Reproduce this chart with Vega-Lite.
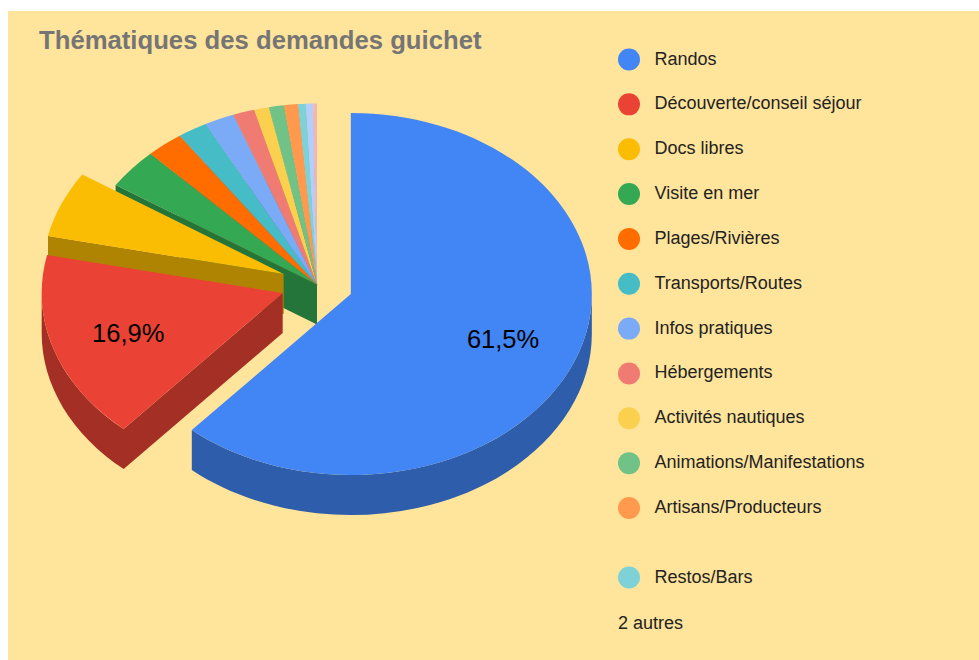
{
"$schema":"https://vega.github.io/schema/vega-lite/v6.json",
"width":971,"height":649,
"padding":{"left":8,"top":11,"right":0,"bottom":0},
"autosize":"none",
"background":"#ffffff",
"view":{"fill":"#ffe49b","stroke":null},
"title":{"text":"Thématiques des demandes guichet","anchor":"start","frame":"group","offset":-44,"dx":31,"font":"Liberation Sans","fontSize":25.7,"fontWeight":"bold","color":"#757575"},
"data":{"values":[
{"rang":1,"thematique":"Randos","valeur":61.5,"eclat":0.15},
{"rang":2,"thematique":"Découverte/conseil séjour","valeur":16.9,"eclat":0.15},
{"rang":3,"thematique":"Docs libres","valeur":5.9,"eclat":0.15},
{"rang":4,"thematique":"Visite en mer","valeur":3.6,"eclat":0},
{"rang":5,"thematique":"Plages/Rivières","valeur":2.5,"eclat":0},
{"rang":6,"thematique":"Transports/Routes","valeur":2.0,"eclat":0},
{"rang":7,"thematique":"Infos pratiques","valeur":2.0,"eclat":0},
{"rang":8,"thematique":"Hébergements","valeur":1.45,"eclat":0},
{"rang":9,"thematique":"Activités nautiques","valeur":1.0,"eclat":0},
{"rang":10,"thematique":"Animations/Manifestations","valeur":1.0,"eclat":0},
{"rang":11,"thematique":"Artisans/Producteurs","valeur":0.95,"eclat":0},
{"rang":12,"thematique":"Restos/Bars","valeur":0.5,"eclat":0},
{"rang":13,"thematique":"Autre 1","valeur":0.5,"eclat":0},
{"rang":14,"thematique":"Autre 2","valeur":0.25,"eclat":0}
]},
"transform":[
{"joinaggregate":[{"op":"sum","field":"valeur","as":"total"}]},
{"window":[{"op":"sum","field":"valeur","as":"cum"}],"sort":[{"field":"rang","order":"ascending"}]},
{"calculate":"2*PI*(datum.cum-datum.valeur)/datum.total","as":"a0"},
{"calculate":"2*PI*datum.cum/datum.total","as":"a1"},
{"calculate":"(datum.a0+datum.a1)/2","as":"mid"},
{"calculate":"datum.eclat*sin(datum.mid)","as":"ex"},
{"calculate":"-datum.eclat*cos(datum.mid)","as":"ey"},
{"calculate":"datum.ex+0.675*sin(datum.mid)","as":"lx"},
{"calculate":"datum.ey-0.68*cos(datum.mid)+0.015","as":"ly"},
{"calculate":"round(24100*sin(datum.a0))/10000","as":"sx"},
{"calculate":"round(-18100*cos(datum.a0))/10000","as":"sy"},
{"calculate":"round(24100*sin(datum.a1))/10000","as":"tx"},
{"calculate":"round(-18100*cos(datum.a1))/10000","as":"ty"},
{"calculate":"max(datum.a0,PI/2)","as":"u"},
{"calculate":"min(datum.a1,3*PI/2)","as":"v"},
{"calculate":"round(24100*sin(datum.u))/10000","as":"ux"},
{"calculate":"round(-18100*cos(datum.u))/10000","as":"uy"},
{"calculate":"round(24100*sin(datum.v))/10000","as":"vx"},
{"calculate":"round(-18100*cos(datum.v))/10000","as":"vy"},
{"calculate":"'M0,0L'+datum.sx+','+datum.sy+'A2.41,1.81 0 '+((datum.a1-datum.a0)>PI?1:0)+' 1 '+datum.tx+','+datum.ty+'Z'","as":"dessus"},
{"calculate":"(datum.u<datum.v?'M'+datum.ux+','+datum.uy+'A2.41,1.81 0 0 1 '+datum.vx+','+datum.vy+'L'+datum.vx+','+round((datum.vy+0.4)*10000)/10000+'A2.41,1.81 0 0 0 '+datum.ux+','+round((datum.uy+0.4)*10000)/10000+'Z':'')+(datum.a0>PI?'M0,0L'+datum.sx+','+datum.sy+'L'+datum.sx+','+round((datum.sy+0.4)*10000)/10000+'L0,0.4Z':'')","as":"paroi"},
{"calculate":"replace(format(datum.valeur,'.1f'),'.',',')+'%'","as":"etiquette"}
],
"encoding":{
"x":{"field":"ex","type":"quantitative","axis":null,"scale":{"domain":[-1.2822,2.7469],"range":[0,971],"nice":false,"zero":false}},
"y":{"field":"ey","type":"quantitative","axis":null,"scale":{"domain":[-1.5110,2.0746],"range":[0,649],"nice":false,"zero":false}}
},
"layer":[
{
"mark":{"type":"point","filled":true,"opacity":1,"size":40000,"strokeWidth":0},
"encoding":{
"shape":{"field":"paroi","type":"nominal","scale":null,"legend":null},
"order":{"field":"rang","sort":"descending"},
"color":{"field":"thematique","type":"nominal","legend":null,"scale":{
"domain":["Randos","Découverte/conseil séjour","Docs libres","Visite en mer","Plages/Rivières","Transports/Routes","Infos pratiques","Hébergements","Activités nautiques","Animations/Manifestations","Artisans/Producteurs","Restos/Bars","Autre 1","Autre 2"],
"range":["#2e5dab","#a42f25","#b08403","#24753a","#b34c01","#31848b","#5677ad","#a85650","#b09237","#4f885f","#b36b36","#589297","#7d90b0","#ad7e7a"]}}
}
},
{
"transform":[{"filter":"datum.rang!=12"}],
"mark":{"type":"point","filled":true,"opacity":1,"size":40000,"strokeWidth":0},
"encoding":{
"shape":{"field":"dessus","type":"nominal","scale":null,"legend":null},
"color":{"field":"thematique","type":"nominal","sort":null,"scale":{
"domain":["Randos","Découverte/conseil séjour","Docs libres","Visite en mer","Plages/Rivières","Transports/Routes","Infos pratiques","Hébergements","Activités nautiques","Animations/Manifestations","Artisans/Producteurs","Autre 1","Autre 2"],
"range":["#4285f4","#ea4335","#fbbc04","#34a853","#ff6d01","#46bdc6","#7baaf7","#f07b72","#fcd04f","#71c287","#ff994d","#b3cefb","#f7b4ae"]},
"legend":{"title":null,"orient":"none","legendX":610,"legendY":37.5,"symbolType":"circle","symbolSize":484,"symbolStrokeWidth":0,"symbolOpacity":1,"labelFont":"Liberation Sans","labelFontSize":18,"labelColor":"#222222","labelOffset":14.5,"rowPadding":22.85,"labelLimit":320,
"values":["Randos","Découverte/conseil séjour","Docs libres","Visite en mer","Plages/Rivières","Transports/Routes","Infos pratiques","Hébergements","Activités nautiques","Animations/Manifestations","Artisans/Producteurs"]}}
}
},
{
"transform":[{"filter":"datum.rang==12"}],
"mark":{"type":"point","filled":true,"opacity":1,"size":40000,"strokeWidth":0},
"encoding":{
"shape":{"field":"dessus","type":"nominal","scale":null,"legend":null},
"color":{"field":"thematique","type":"nominal","scale":{"domain":["Restos/Bars"],"range":["#7ed1d7"]},
"legend":{"title":"2 autres","titleOrient":"bottom","titleAnchor":"start","titleFont":"Liberation Sans","titleFontSize":18,"titleFontWeight":"normal","titleColor":"#222222","titlePadding":26,"orient":"none","legendX":610,"legendY":555.5,"symbolType":"circle","symbolSize":484,"symbolStrokeWidth":0,"symbolOpacity":1,"labelFont":"Liberation Sans","labelFontSize":18,"labelColor":"#222222","labelOffset":14.5}}
}
},
{
"transform":[{"filter":"datum.valeur>=10"}],
"mark":{"type":"text","font":"Liberation Sans","fontSize":25.5,"color":"#000000","align":"center","baseline":"middle"},
"encoding":{
"x":{"field":"lx","type":"quantitative"},
"y":{"field":"ly","type":"quantitative"},
"text":{"field":"etiquette","type":"nominal"}
}
}
],
"resolve":{"scale":{"color":"independent"},"legend":{"color":"independent"}}
}
